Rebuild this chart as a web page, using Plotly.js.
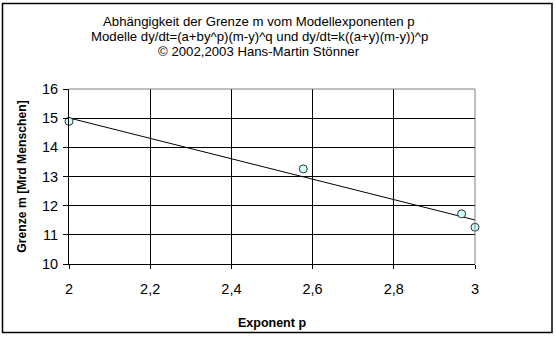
<!DOCTYPE html>
<html>
<head>
<meta charset="utf-8">
<script src="https://cdn.plot.ly/plotly-3.0.1.min.js"></script>
<style>
html,body{margin:0;padding:0;background:#fff;}
#chart{width:556px;height:337px;}
</style>
</head>
<body>
<div id="chart"></div>
<script>
// Data
const exponentP = [2.0, 2.577, 2.967, 3.0];
const grenzeM   = [14.89, 13.26, 11.72, 11.26];
const xTickVals = [2, 2.2, 2.4, 2.6, 2.8, 3];
const yTickVals = [10, 11, 12, 13, 14, 15, 16];
const titleLines = [
  "Abhängigkeit der Grenze m vom Modellexponenten p",
  "Modelle dy/dt=(a+by^p)(m-y)^q und dy/dt=k((a+y)(m-y))^p",
  "© 2002,2003 Hans-Martin Stönner"
];

// Linear trendline (least squares) computed from the data
const n = exponentP.length;
const mx = exponentP.reduce((a,b)=>a+b,0)/n;
const my = grenzeM.reduce((a,b)=>a+b,0)/n;
let sxy = 0, sxx = 0;
for (let i=0;i<n;i++){ sxy += (exponentP[i]-mx)*(grenzeM[i]-my); sxx += (exponentP[i]-mx)**2; }
const slope = sxy/sxx, icpt = my - slope*mx;
const trendX = [2, 3];
const trendY = trendX.map(x => icpt + slope*x);

const FONT = "Liberation Sans, Arial, sans-serif";
const L = 69, R = 475, T = 89, B = 264, W = 556, H = 337;
const pw = R-L, ph = B-T;
const px2x = p => (p-L)/pw;
const py2y = p => (B-p)/ph;

const traces = [
  {x: trendX, y: trendY, mode: 'lines', type: 'scatter',
   line: {color: '#000', width: 1}, hoverinfo: 'skip', showlegend: false},
  {x: exponentP, y: grenzeM, mode: 'markers', type: 'scatter',
   marker: {size: 8, color: '#CCFFFF', line: {color: '#333', width: 1}},
   cliponaxis: false, showlegend: false}
];

const titleY = [21.5, 36.5, 51.5];
const annotations = titleLines.map((t,i)=>({
  text: t, xref: 'paper', yref: 'paper', x: px2x(259), y: py2y(titleY[i]),
  xanchor: 'center', yanchor: 'middle', showarrow: false,
  font: {family: FONT, size: 13.2, color: '#000'}
}));

const layout = {
  width: W, height: H,
  margin: {l: L, r: W-R, t: T, b: H-B, pad: 0},
  paper_bgcolor: '#fff', plot_bgcolor: '#fff',
  separators: ',.',
  showlegend: false,
  font: {family: FONT, color: '#000'},
  xaxis: {
    range: [2, 3], tickvals: xTickVals, showgrid: true, gridcolor: '#000', gridwidth: 1,
    showline: true, linecolor: '#000', linewidth: 1, zeroline: false,
    ticks: 'outside', ticklen: 4, tickcolor: '#000', ticklabelstandoff: 8,
    tickfont: {family: FONT, size: 14.5, color: '#000'},
    title: {text: '<b>Exponent p</b>', font: {family: FONT, size: 12.5, color: '#000'}, standoff: 21},
    fixedrange: true
  },
  yaxis: {
    range: [10, 16], tickvals: yTickVals, showgrid: true, gridcolor: '#000', gridwidth: 1,
    showline: true, linecolor: '#000', linewidth: 1, zeroline: false,
    ticks: 'outside', ticklen: 5, tickcolor: '#000', ticklabelstandoff: 2,
    tickfont: {family: FONT, size: 14.5, color: '#000'},
    title: {text: '<b>Grenze m [Mrd Menschen]</b>', font: {family: FONT, size: 12.2, color: '#000'}, standoff: 12},
    fixedrange: true
  },
  annotations: annotations,
  shapes: [
    // gray plot-area border (top and right)
    {type: 'line', xref: 'paper', yref: 'paper', x0: 0, x1: 1, y0: 1, y1: 1, line: {color: '#808080', width: 1}, layer: 'above'},
    {type: 'line', xref: 'paper', yref: 'paper', x0: 1, x1: 1, y0: 0, y1: 1, line: {color: '#808080', width: 1}, layer: 'above'},
    // outer chart border
    {type: 'rect', xref: 'paper', yref: 'paper', x0: px2x(2.5), x1: px2x(552), y0: py2y(332.5), y1: py2y(3.5),
     line: {color: '#000', width: 1.5}, fillcolor: 'rgba(0,0,0,0)', layer: 'above'}
  ]
};

Plotly.newPlot('chart', traces, layout, {displayModeBar: false, staticPlot: true});
</script>
</body>
</html>
